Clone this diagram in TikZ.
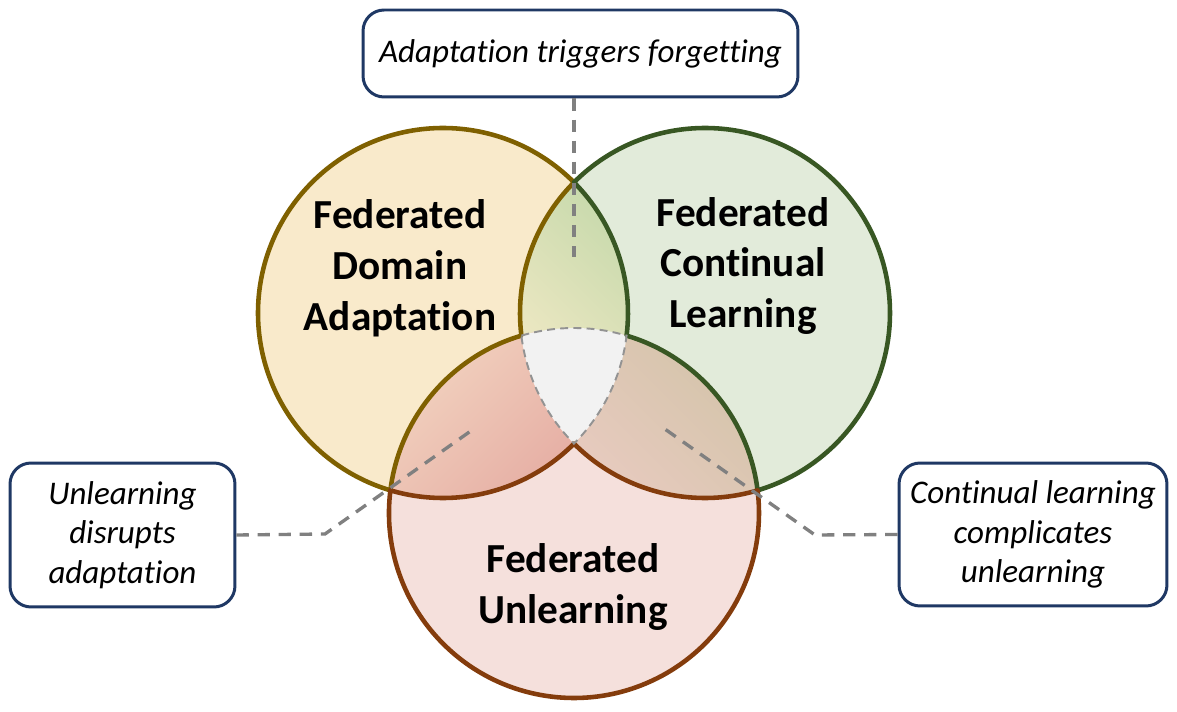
\documentclass[tikz,border=0pt]{standalone}
\usepackage{fontspec}
\setmainfont{Carlito}[Ligatures=NoCommon]
\usepackage{tikz}
\usetikzlibrary{positioning,calc}
\definecolor{fdafill}{HTML}{F9EACB}
\definecolor{fdaedge}{HTML}{7F6000}
\definecolor{fclfill}{HTML}{E2EBDA}
\definecolor{fcledge}{HTML}{385723}
\definecolor{fufill}{HTML}{F5E0DC}
\definecolor{fuedge}{HTML}{843C0C}
\definecolor{lensyellow}{HTML}{F6EBC8}
\definecolor{lensgreen}{HTML}{C9DAAD}
\definecolor{lenspeach}{HTML}{F2D2BF}
\definecolor{lensred}{HTML}{E3A69E}
\definecolor{lenstan}{HTML}{D4C4AA}
\definecolor{lensrose}{HTML}{ECCCC4}
\definecolor{corefill}{HTML}{F2F2F2}
\definecolor{boxnavy}{HTML}{1F3864}
\definecolor{guidegray}{HTML}{808080}
\tikzset{
  setedge/.style={line width=2.6pt,line join=round},
  setlabel/.style={align=center,font=\bfseries\fontsize{23.5}{29}\selectfont},
  notebox/.style={draw=boxnavy,line width=1.7pt,rounded corners=0.42cm,fill=white,
    align=center,inner sep=0pt,font=\itshape\fontsize{18.8}{22.5}\selectfont},
  guide/.style={draw=guidegray,line width=1.9pt,dash pattern=on 7pt off 5pt},
  coreedge/.style={draw=guidegray!85,line width=1.1pt,dash pattern=on 4.5pt off 3pt}
}
\begin{document}
\begin{tikzpicture}[x=0.02cm,y=0.02cm]
  \useasboundingbox (-574,-399) rectangle (603,313);
  % circle centres, radius 185
  \coordinate (A) at (-131,0);
  \coordinate (B) at (131,0);
  \coordinate (C) at (0,-200);
  \fill[fdafill] (A) circle (185);
  \fill[fclfill] (B) circle (185);
  \fill[fufill] (C) circle (185);
  % pairwise overlaps
  \begin{scope}
    \clip (A) circle (185);
    \clip (B) circle (185);
    \shade[top color=lensgreen,bottom color=lensyellow,shading angle=-45] (-55,-131) rectangle (55,131);
  \end{scope}
  \begin{scope}
    \clip (A) circle (185);
    \clip (C) circle (185);
    \shade[top color=lenspeach,bottom color=lensred,shading angle=45] (-185,-205) rectangle (55,-20);
  \end{scope}
  \begin{scope}
    \clip (B) circle (185);
    \clip (C) circle (185);
    \shade[top color=lenstan,bottom color=lensrose,shading angle=-45] (-55,-205) rectangle (185,-20);
  \end{scope}
  \begin{scope}
    \clip (A) circle (185);
    \clip (B) circle (185);
    \fill[corefill] (C) circle (185);
  \end{scope}
  % outlines of the single regions
  \draw[setedge,draw=fdaedge] ($(A)+(44.92:185)$) arc[start angle=44.92,end angle=253.48,radius=185]
    arc[start angle=172.97,end angle=106.52,radius=185]
    arc[start angle=187.03,end angle=135.08,radius=185] -- cycle;
  \draw[setedge,draw=fcledge] ($(B)+(135.08:185)$) arc[start angle=135.08,end angle=-73.48,radius=185]
    arc[start angle=7.03,end angle=73.48,radius=185]
    arc[start angle=-7.03,end angle=44.92,radius=185] -- cycle;
  \draw[setedge,draw=fuedge] ($(C)+(172.97:185)$) arc[start angle=172.97,end angle=367.03,radius=185]
    arc[start angle=286.52,end angle=224.92,radius=185]
    arc[start angle=315.08,end angle=253.48,radius=185] -- cycle;
  % centre region
  \draw[coreedge] ($(C)+(106.52:185)$) arc[start angle=106.52,end angle=73.48,radius=185]
    arc[start angle=-7.03,end angle=-44.92,radius=185]
    arc[start angle=224.92,end angle=187.03,radius=185];
  % labels
  \node[setlabel] (fda) at (-174,45) {Federated\\Domain\\Adaptation};
  \node[setlabel] (fcl) at (169,47) {Federated\\Continual\\Learning};
  \node[setlabel] (fu) at (-1,-274) {Federated\\Unlearning};
  % notes
  \node[notebox,minimum width=8.7cm,minimum height=1.74cm] (forget) at (6.5,259.5) {Adaptation triggers forgetting};
  \node[notebox,minimum width=4.5cm,minimum height=2.88cm] (disrupt) at (-451.5,-222) {Unlearning\\disrupts\\adaptation};
  \node[notebox,minimum width=5.36cm,minimum height=2.86cm] (complic) at (459,-221.5) {Continual learning\\complicates\\unlearning};
  \coordinate (forgetend) at (0,56);
  \coordinate (disruptbend) at (-249,-221);
  \coordinate (disruptend) at (-99,-115);
  \coordinate (complicbend) at (241,-222);
  \coordinate (complicend) at (88,-114);
  \draw[guide] (forget.south -| forgetend) -- (forgetend);
  \draw[guide] (disrupt.east) -- (disruptbend) -- (disruptend);
  \draw[guide] (complic.west) -- (complicbend) -- (complicend);
\end{tikzpicture}
\end{document}
